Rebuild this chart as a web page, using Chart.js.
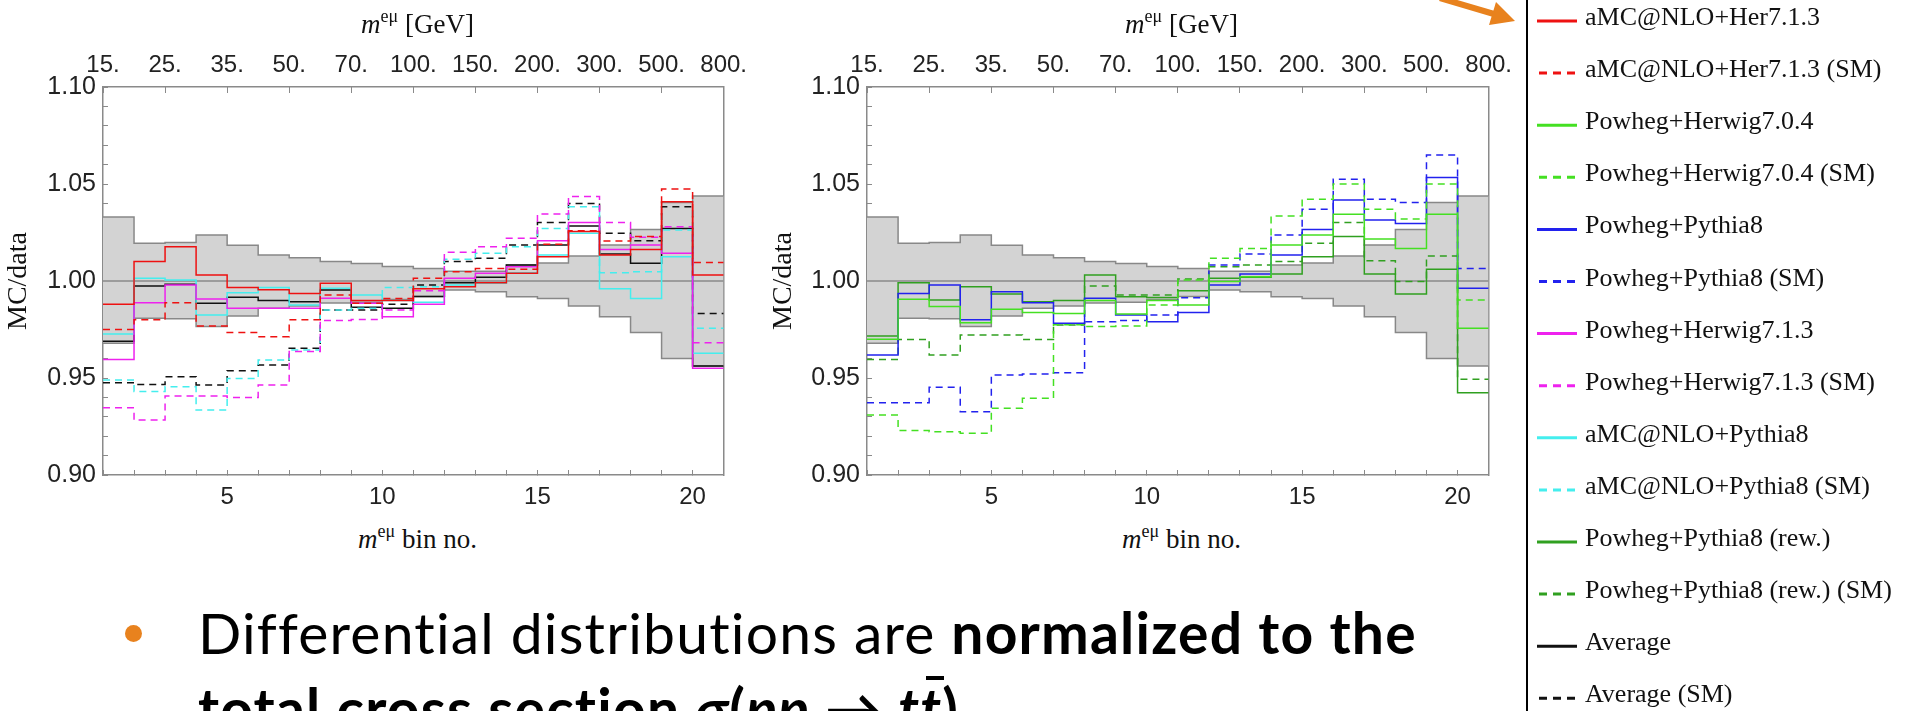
<!DOCTYPE html>
<html>
<head>
<meta charset="utf-8">
<script src="https://cdn.jsdelivr.net/npm/chart.js@4.4.0/dist/chart.umd.min.js"></script>
<style>
  body { margin:0; width:1905px; height:711px; overflow:hidden; background:#fff; position:relative; }
  .plot { position:absolute; top:0; width:760px; height:515px; }
  .axt { position:absolute; font-family:"Liberation Serif", serif; font-size:27px; line-height:26px; color:#111; text-align:center; white-space:nowrap; }
  .axt .sup { font-size:18px; position:relative; top:-11px; }
  .leg { position:absolute; left:1585px; font-family:"Liberation Serif", serif; font-size:26px; line-height:30px; color:#111; white-space:nowrap; }
  #note { position:absolute; left:198px; top:594px; font-family:Lato, sans-serif; font-size:57px; letter-spacing:1.2px; line-height:76px; color:#000; white-space:nowrap; }
  .tbar { display:inline-block; position:relative; }
  .tbar::before { content:""; position:absolute; left:6px; right:-2px; top:6px; border-top:4px solid #000; }
</style>
</head>
<body>
<div class="plot" style="left:0"><canvas id="leftPlot"></canvas></div>
<div class="plot" style="left:765px"><canvas id="rightPlot"></canvas></div>

<div class="axt" style="left:103px;width:629px;top:11px"><i>m</i><span class="sup">eμ</span> [GeV]</div>
<div class="axt" style="left:867px;width:629px;top:11px"><i>m</i><span class="sup">eμ</span> [GeV]</div>
<div class="axt" style="left:103px;width:629px;top:526px"><i>m</i><span class="sup">eμ</span> bin no.</div>
<div class="axt" style="left:867px;width:629px;top:526px"><i>m</i><span class="sup">eμ</span> bin no.</div>

<div style="position:absolute;left:1526px;top:0;width:2px;height:711px;background:#000"></div>
<svg id="legendLines" style="position:absolute;left:0;top:0" width="1905" height="711">
  <line x1="1440" y1="-2" x2="1494" y2="14" stroke="#e8821e" stroke-width="6"/>
  <polygon points="1515,21 1489,25 1496,2" fill="#e8821e"/>
</svg>
<div id="legendText"></div>

<div style="position:absolute;left:125px;top:625px;width:17px;height:17px;border-radius:50%;background:#e8821e"></div>
<div id="note">Differential distributions are <b>normalized to the</b><br><b>total cross section <i>σ</i>(<i>pp</i> → <i>t</i><i class="tbar">t</i>)</b></div>

<script>
// bin numbers 1..20, step edges 1..21
const binEdges = [1, 2, 3, 4, 5, 6, 7, 8, 9, 10, 11, 12, 13, 14, 15, 16, 17, 18, 19, 20, 21];
const massEdges = ['15.', '25.', '35.', '50.', '70.', '100.', '150.', '200.', '300.', '500.', '800.'];
const massEdgePos = [1, 3, 5, 7, 9, 11, 13, 15, 17, 19, 21];
const yTickVals = [0.90, 0.91, 0.92, 0.93, 0.94, 0.95, 0.96, 0.97, 0.98, 0.99, 1.00,
                   1.01, 1.02, 1.03, 1.04, 1.05, 1.06, 1.07, 1.08, 1.09, 1.10];

// data uncertainty band
const bandUpper = [1.033, 1.0194, 1.0199, 1.0237, 1.0184, 1.0134, 1.012, 1.010, 1.009, 1.0075, 1.0065, 1.005, 1.005, 1.0082, 1.0093, 1.0129, 1.0186, 1.0266, 1.0405, 1.0438];
const bandLower = [0.9679, 0.9808, 0.9805, 0.9765, 0.982, 0.9859, 0.9871, 0.9886, 0.989, 0.9905, 0.992, 0.9954, 0.9945, 0.9919, 0.991, 0.9871, 0.9816, 0.9735, 0.9601, 0.9562];

// left panel
const aMCHer713 = [0.988, 1.010, 1.0177, 1.0031, 0.9967, 0.9955, 0.9936, 0.9988, 0.990, 0.990, 0.996, 0.9971, 0.9991, 1.004, 1.0125, 1.0255, 1.0134, 1.0163, 1.0409, 1.0031];
const aMCHer713SM = [0.975, 0.980, 0.9888, 0.9768, 0.9734, 0.9713, 0.980, 0.9928, 0.9885, 0.991, 1.0014, 1.0048, 1.0065, 1.006, 1.0189, 1.0259, 1.0206, 1.0229, 1.0474, 1.0095];
const powHer713 = [0.9596, 0.9888, 0.998, 0.9907, 0.9859, 0.9859, 0.9859, 0.9911, 0.9885, 0.9816, 0.988, 1.0014, 1.004, 1.0074, 1.0208, 1.0301, 1.0163, 1.0186, 1.0143, 0.955];
const powHer713SM = [0.9347, 0.9283, 0.9407, 0.9407, 0.9399, 0.9464, 0.9636, 0.9796, 0.9802, 0.985, 0.995, 1.0148, 1.0177, 1.022, 1.0345, 1.0435, 1.0301, 1.0225, 1.028, 0.9682];
const aMCPy8 = [0.9727, 1.0014, 1.0005, 0.9825, 0.994, 0.9967, 0.9876, 0.9962, 0.9928, 0.990, 0.989, 0.9979, 0.9988, 1.0043, 1.0134, 1.0246, 0.996, 0.991, 1.0125, 0.9627];
const aMCPy8SM = [0.949, 0.943, 0.9455, 0.9335, 0.9498, 0.9593, 0.9644, 0.985, 0.986, 0.9967, 0.997, 1.0112, 1.0143, 1.0177, 1.0271, 1.0383, 1.0043, 1.0048, 1.0263, 0.9756];
const average = [0.969, 0.9974, 0.9983, 0.9885, 0.9916, 0.990, 0.9893, 0.9954, 0.9865, 0.986, 0.992, 0.9991, 1.0019, 1.0082, 1.0186, 1.0284, 1.0139, 1.0091, 1.027, 0.9562];
const averageSM = [0.9476, 0.9467, 0.9507, 0.9464, 0.9538, 0.9567, 0.9653, 0.985, 0.985, 0.988, 0.998, 1.010, 1.0117, 1.0186, 1.0301, 1.040, 1.0246, 1.0208, 1.0383, 0.9833];

// right panel
const powHer704 = [0.970, 0.9906, 0.9868, 0.9785, 0.9854, 0.9837, 0.9833, 0.9899, 0.983, 0.990, 0.9876, 0.9997, 1.0022, 1.0186, 1.0237, 1.0344, 1.0216, 1.0168, 1.0344, 0.9756];
const powHer704SM = [0.9309, 0.9229, 0.9223, 0.9215, 0.9344, 0.9395, 0.9775, 0.9765, 0.9768, 0.9876, 1.0005, 1.0117, 1.0168, 1.0335, 1.0421, 1.050, 1.037, 1.032, 1.050, 0.9902];
const powPy8 = [0.9619, 0.9936, 0.998, 0.980, 0.9945, 0.9888, 0.9782, 0.9911, 0.9825, 0.979, 0.9837, 0.998, 1.0036, 1.0134, 1.0266, 1.0418, 1.0314, 1.0297, 1.0534, 0.9962];
const powPy8SM = [0.9373, 0.9373, 0.9452, 0.9326, 0.9515, 0.952, 0.9527, 0.979, 0.9796, 0.9825, 0.9914, 1.0082, 1.0139, 1.0237, 1.037, 1.0524, 1.0421, 1.0405, 1.065, 1.0065];
const powPy8rew = [0.9716, 0.9991, 0.9902, 0.9971, 0.9933, 0.9893, 0.9899, 1.0031, 0.9919, 0.9915, 0.995, 1.0014, 1.0019, 1.0036, 1.0125, 1.0229, 1.0036, 0.9933, 1.006, 0.9424];
const powPy8rewSM = [0.9596, 0.9699, 0.9619, 0.9722, 0.9722, 0.9699, 0.9773, 0.9974, 0.9928, 0.9928, 1.001, 1.0074, 1.0082, 1.010, 1.0194, 1.0301, 1.0105, 0.9997, 1.0129, 0.9493];

const RED = '#ee1111', LGREEN = '#44e022', BLUE = '#2222ee', MAGENTA = '#ee22ee',
      CYAN = '#44eeee', DGREEN = '#30a020', BLACK = '#111111';

// legend order
const legendItems = [
  ['aMC@NLO+Her7.1.3', RED, false],
  ['aMC@NLO+Her7.1.3 (SM)', RED, true],
  ['Powheg+Herwig7.0.4', LGREEN, false],
  ['Powheg+Herwig7.0.4 (SM)', LGREEN, true],
  ['Powheg+Pythia8', BLUE, false],
  ['Powheg+Pythia8 (SM)', BLUE, true],
  ['Powheg+Herwig7.1.3', MAGENTA, false],
  ['Powheg+Herwig7.1.3 (SM)', MAGENTA, true],
  ['aMC@NLO+Pythia8', CYAN, false],
  ['aMC@NLO+Pythia8 (SM)', CYAN, true],
  ['Powheg+Pythia8 (rew.)', DGREEN, false],
  ['Powheg+Pythia8 (rew.) (SM)', DGREEN, true],
  ['Average', BLACK, false],
  ['Average (SM)', BLACK, true]
];

const leftSeries = [
  [aMCHer713, RED, false], [aMCHer713SM, RED, true],
  [powHer713, MAGENTA, false], [powHer713SM, MAGENTA, true],
  [aMCPy8, CYAN, false], [aMCPy8SM, CYAN, true],
  [average, BLACK, false], [averageSM, BLACK, true]
];
const rightSeries = [
  [powHer704, LGREEN, false], [powHer704SM, LGREEN, true],
  [powPy8, BLUE, false], [powPy8SM, BLUE, true],
  [powPy8rew, DGREEN, false], [powPy8rewSM, DGREEN, true]
];

// bin i covers [i, i+1]; last value repeated at the closing edge
function stepData(vals) {
  return binEdges.map((x, i) => ({ x: x, y: vals[Math.min(i, vals.length - 1)] }));
}

const FRAME = '#8a8a8a';
const tickFont = { family: 'Liberation Sans', size: 24 };

function makePlot(id, series, yWidth, rightPad) {
  const datasets = series.map(([vals, color, dashed]) => ({
    data: stepData(vals),
    borderColor: color,
    borderWidth: 1.5,
    borderDash: dashed ? [7, 5] : [],
    stepped: 'before',
    pointRadius: 0,
    fill: false,
    order: 1
  }));
  datasets.push({
    data: binEdges.map(x => ({ x: x, y: 1 })),
    borderColor: FRAME, borderWidth: 1.5, pointRadius: 0, fill: false, order: 18
  });
  datasets.push({
    data: stepData(bandUpper),
    borderColor: '#888', borderWidth: 1.5, stepped: 'before', pointRadius: 0, fill: false, order: 19
  });
  datasets.push({
    data: stepData(bandLower),
    borderColor: '#888', borderWidth: 1.5, stepped: 'before', pointRadius: 0,
    fill: '-1', backgroundColor: '#d3d3d3', order: 20
  });

  new Chart(document.getElementById(id), {
    type: 'line',
    data: { datasets: datasets },
    options: {
      responsive: true,
      maintainAspectRatio: false,
      animation: false,
      layout: { padding: { left: 0, top: 0, right: rightPad, bottom: 0 } },
      plugins: { legend: { display: false }, tooltip: { enabled: false } },
      scales: {
        x: {
          type: 'linear', position: 'bottom', min: 1, max: 21,
          afterBuildTicks: s => { s.ticks = binEdges.map(v => ({ value: v })); },
          afterFit: s => { s.height = 40; },
          ticks: { autoSkip: false, maxRotation: 0, padding: 13, color: '#222', font: tickFont,
                   callback: v => (v % 5 === 0 ? String(v) : '') },
          grid: { drawOnChartArea: false, tickLength: -5, tickColor: FRAME },
          border: { color: FRAME, width: 1.5 }
        },
        x2: {
          type: 'linear', position: 'top', min: 1, max: 21,
          afterBuildTicks: s => { s.ticks = massEdgePos.map(v => ({ value: v })); },
          afterFit: s => { s.height = 87; },
          ticks: { autoSkip: false, maxRotation: 0, padding: 13, color: '#222', font: tickFont,
                   callback: (v, i) => massEdges[i] },
          grid: { drawOnChartArea: false, tickLength: -6, tickColor: FRAME },
          border: { color: FRAME, width: 1.5 }
        },
        y: {
          position: 'left', min: 0.9, max: 1.1,
          afterBuildTicks: s => { s.ticks = yTickVals.map(v => ({ value: v })); },
          afterFit: s => { s.width = yWidth; },
          ticks: { autoSkip: false, padding: 12, color: '#222', font: { family: 'Liberation Sans', size: 25 },
                   callback: (v, i) => (i % 5 === 0 ? yTickVals[i].toFixed(2) : '') },
          grid: { drawOnChartArea: false, tickLength: -5, tickColor: FRAME },
          border: { color: FRAME, width: 1.5 },
          title: { display: true, text: 'MC/data', color: '#111',
                   font: { family: 'Liberation Serif', size: 28 }, padding: { top: 2, bottom: 0 } }
        },
        yr: {
          position: 'right', min: 0.9, max: 1.1,
          afterFit: s => { s.width = 0; },
          ticks: { display: false },
          grid: { drawOnChartArea: false, drawTicks: false },
          border: { color: FRAME, width: 1.5 }
        }
      }
    }
  });
}

makePlot('leftPlot', leftSeries, 103, 28);
makePlot('rightPlot', rightSeries, 102, 29);

// legend
const svg = document.getElementById('legendLines');
const legendBox = document.getElementById('legendText');
legendItems.forEach(([label, color, dashed], i) => {
  const yc = 21 + i * 52.1;
  const ln = document.createElementNS('http://www.w3.org/2000/svg', 'line');
  ln.setAttribute('x1', 1537); ln.setAttribute('x2', 1577);
  ln.setAttribute('y1', yc); ln.setAttribute('y2', yc);
  ln.setAttribute('stroke', color); ln.setAttribute('stroke-width', 3);
  if (dashed) { ln.setAttribute('stroke-dasharray', '8 6'); ln.setAttribute('x1', 1539); }
  svg.appendChild(ln);
  const t = document.createElement('div');
  t.className = 'leg';
  t.style.top = (yc - 19) + 'px';
  t.textContent = label;
  legendBox.appendChild(t);
});
</script>
</body>
</html>
